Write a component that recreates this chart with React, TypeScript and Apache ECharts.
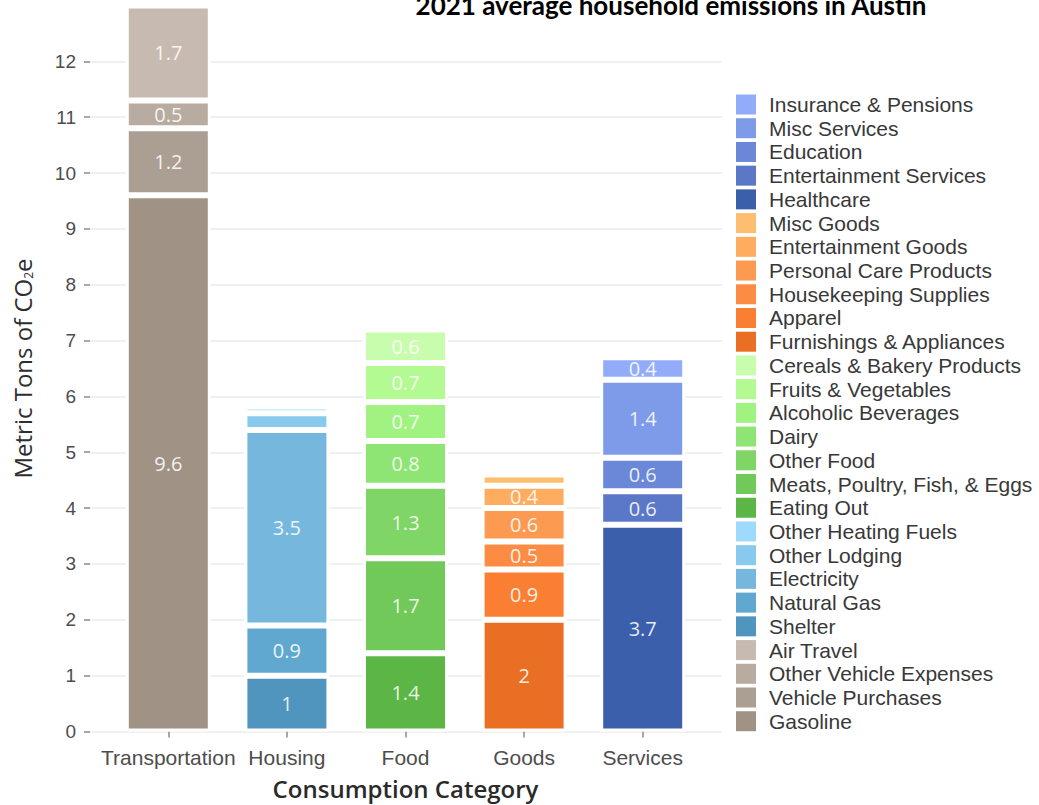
import React, { useEffect, useRef } from "react";
import * as echarts from "echarts";

const categories = ["Transportation", "Housing", "Food", "Goods", "Services"];

const transportationItems = ["Gasoline", "Vehicle Purchases", "Other Vehicle Expenses", "Air Travel"];
const transportationValues = [9.6, 1.2, 0.5, 1.7];
const transportationColors = ["#a09386", "#ab9e92", "#b8aba0", "#c7bab0"];

const housingItems = ["Shelter", "Natural Gas", "Electricity", "Other Lodging", "Other Heating Fuels"];
const housingValues = [1, 0.9, 3.5, 0.3, 0.12];
const housingColors = ["#4f95bd", "#60a8cf", "#76b7de", "#88c9ee", "#9edafc"];

const foodItems = [
  "Eating Out",
  "Meats, Poultry, Fish, & Eggs",
  "Other Food",
  "Dairy",
  "Alcoholic Beverages",
  "Fruits & Vegetables",
  "Cereals & Bakery Products",
];
const foodValues = [1.4, 1.7, 1.3, 0.8, 0.7, 0.7, 0.6];
const foodColors = ["#5cb646", "#71c95a", "#7fd566", "#8ee574", "#a1f381", "#b3fa93", "#c9fdae"];

const goodsItems = [
  "Furnishings & Appliances",
  "Apparel",
  "Housekeeping Supplies",
  "Personal Care Products",
  "Entertainment Goods",
  "Misc Goods",
];
const goodsValues = [2, 0.9, 0.5, 0.6, 0.4, 0.2];
const goodsColors = ["#e86f24", "#fa7f32", "#fc8c43", "#fd9a52", "#fdac60", "#fdbe70"];

const servicesItems = ["Healthcare", "Entertainment Services", "Education", "Misc Services", "Insurance & Pensions"];
const servicesValues = [3.7, 0.6, 0.6, 1.4, 0.4];
const servicesColors = ["#3b5fab", "#5b78c8", "#6a87d8", "#7e9bea", "#92acfa"];

const yMin = 0;
const yTickMax = 12;
const yInterval = 1;
const yPanelMax = 13;

const titleText = "2021 average household emissions in Austin";
const xTitle = "Consumption Category";

export default function App() {
  const ref = useRef<HTMLDivElement>(null);

  useEffect(() => {
    if (!ref.current) return;
    const chart = echarts.init(ref.current, undefined, { renderer: "svg" });

    const groups = [
      { items: transportationItems, values: transportationValues, colors: transportationColors },
      { items: housingItems, values: housingValues, colors: housingColors },
      { items: foodItems, values: foodValues, colors: foodColors },
      { items: goodsItems, values: goodsValues, colors: goodsColors },
      { items: servicesItems, values: servicesValues, colors: servicesColors },
    ];

    const series: any[] = [];
    const allNames: string[] = [];
    groups.forEach((g, ci) => {
      g.items.forEach((name, k) => {
        allNames.push(name);
        const v = g.values[k];
        series.push({
          type: "bar",
          name,
          stack: "total",
          xAxisIndex: 0,
          yAxisIndex: 0,
          barWidth: 85,
          data: categories.map((_, j) => (j === ci ? v : "-")),
          itemStyle: { color: g.colors[k], borderColor: "#ffffff", borderWidth: 3 },
          label: {
            show: v >= 0.35,
            position: "inside",
            formatter: (p: any) => String(p.value),
            color: "rgba(255,255,255,0.88)",
            fontFamily: "Open Sans",
            fontSize: 20,
          },
          emphasis: { disabled: true },
        });
      });
    });

    const legendNames = allNames.slice().reverse();

    const option: any = {
      animation: false,
      textStyle: { fontFamily: "Liberation Sans" },
      graphic: [
        {
          type: "text",
          x: 671,
          y: 5,
          style: {
            text: titleText,
            font: "bold 26px Lato",
            fill: "#000000",
            align: "center",
            verticalAlign: "middle",
          },
        },
      ],
      legend: {
        orient: "vertical",
        left: 736,
        top: 94,
        padding: 0,
        itemWidth: 20,
        itemHeight: 20,
        itemGap: 2.72,
        icon: "rect",
        selectedMode: false,
        data: legendNames,
        itemStyle: { borderWidth: 0 },
        textStyle: {
          fontFamily: "Liberation Sans",
          fontSize: 21,
          color: "#383838",
          lineHeight: 20,
          padding: [0, 0, 0, 8],
        },
      },
      grid: [
        { left: 109, right: 337, top: 5.45, bottom: 73.5, containLabel: false, outerBoundsMode: "none" },
        { left: 90, right: 317, top: 61.3, bottom: 73.5, containLabel: false, outerBoundsMode: "none" },
      ],
      xAxis: [
        {
          type: "category",
          gridIndex: 0,
          data: categories,
          axisLine: { show: false },
          axisTick: { show: true, alignWithLabel: true, length: 6, lineStyle: { color: "#8a8a8a", width: 1.5 } },
          axisLabel: { interval: 0, fontSize: 21, color: "#4d4d4d", margin: 15, fontFamily: "Liberation Sans" },
          splitLine: { show: false },
          name: xTitle,
          nameLocation: "middle",
          nameGap: 45,
          nameTextStyle: { fontSize: 24, fontFamily: "Open Sans", fontWeight: 600, color: "#2a2a2a" },
        },
        { type: "value", gridIndex: 1, show: false, min: 0, max: 1 },
      ],
      yAxis: [
        {
          type: "value",
          gridIndex: 0,
          min: yMin,
          max: yPanelMax,
          axisLine: { show: false },
          axisTick: { show: false },
          axisLabel: { show: false },
          splitLine: { show: false },
          name: "{a|Metric Tons of CO}{s|2}{a|e}",
          nameLocation: "middle",
          nameRotate: 90,
          nameGap: 75,
          nameTextStyle: {
            rich: {
              a: { fontSize: 24, fontFamily: "Open Sans", color: "#2e2e2e", lineHeight: 24 },
              s: { fontSize: 12, fontFamily: "Open Sans", color: "#2e2e2e", lineHeight: 12, verticalAlign: "bottom" },
            },
          },
        },
        {
          type: "value",
          gridIndex: 1,
          min: yMin,
          max: yTickMax,
          interval: yInterval,
          axisLine: { show: false },
          axisTick: { show: true, length: 6, lineStyle: { color: "#8a8a8a", width: 1.5 } },
          axisLabel: { fontSize: 19, color: "#4d4d4d", margin: 14, fontFamily: "Liberation Sans" },
          splitLine: { show: true, lineStyle: { color: "#ebebeb", width: 1.5 } },
        },
      ],
      series,
    };

    chart.setOption(option);
    return () => chart.dispose();
  }, []);

  return (
    <div
      ref={ref}
      style={{ position: "absolute", left: 0, top: 0, width: 1039, height: 805, background: "#ffffff" }}
    />
  );
}
